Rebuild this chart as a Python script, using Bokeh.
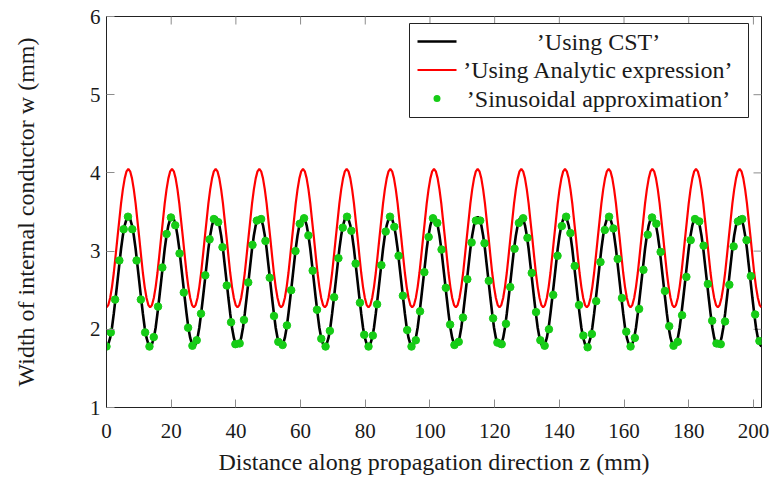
import math
from bokeh.plotting import figure
from bokeh.models import Range1d, FixedTicker, Label, BoxAnnotation
from bokeh.embed import file_html
from bokeh.resources import INLINE

# ---------------- data ----------------
x_ticks = [0, 20, 40, 60, 80, 100, 120, 140, 160, 180, 200]
y_ticks = [1, 2, 3, 4, 5, 6]
x_label = "Distance along propagation direction z (mm)"
y_label = "Width of internal conductor w (mm)"
legend_labels = ["\u2019Using CST\u2019", "\u2019Using Analytic expression\u2019",
                 "\u2019Sinusoidal approximation\u2019"]

# positions along z for the two continuous curves (mm)
z_line = [
    0, 0.56, 1.13, 1.69, 2.25, 2.81, 3.38, 3.94, 4.5, 5.06, 5.63, 6.19, 6.75, 7.31, 7.88, 8.44, 9, 9.56, 10.13, 10.69, 11.25, 11.81, 12.38, 12.94,
    13.5, 14.06, 14.63, 15.19, 15.75, 16.31, 16.88, 17.44, 18, 18.56, 19.13, 19.69, 20.25, 20.81, 21.38, 21.94, 22.5, 23.06, 23.63, 24.19, 24.75, 25.31, 25.88, 26.44,
    27, 27.56, 28.13, 28.69, 29.25, 29.81, 30.38, 30.94, 31.5, 32.06, 32.63, 33.19, 33.75, 34.31, 34.88, 35.44, 36, 36.56, 37.13, 37.69, 38.25, 38.81, 39.38, 39.94,
    40.5, 41.06, 41.63, 42.19, 42.75, 43.31, 43.88, 44.44, 45, 45.56, 46.13, 46.69, 47.25, 47.81, 48.38, 48.94, 49.5, 50.06, 50.63, 51.19, 51.75, 52.31, 52.88, 53.44,
    54, 54.56, 55.13, 55.69, 56.25, 56.81, 57.38, 57.94, 58.5, 59.06, 59.63, 60.19, 60.75, 61.31, 61.88, 62.44, 63, 63.56, 64.13, 64.69, 65.25, 65.81, 66.38, 66.94,
    67.5, 68.06, 68.63, 69.19, 69.75, 70.31, 70.88, 71.44, 72, 72.56, 73.13, 73.69, 74.25, 74.81, 75.38, 75.94, 76.5, 77.06, 77.63, 78.19, 78.75, 79.31, 79.88, 80.44,
    81, 81.56, 82.13, 82.69, 83.25, 83.81, 84.38, 84.94, 85.5, 86.06, 86.63, 87.19, 87.75, 88.31, 88.88, 89.44, 90, 90.56, 91.13, 91.69, 92.25, 92.81, 93.38, 93.94,
    94.5, 95.06, 95.63, 96.19, 96.75, 97.31, 97.88, 98.44, 99, 99.56, 100.13, 100.69, 101.25, 101.81, 102.38, 102.94, 103.5, 104.06, 104.63, 105.19, 105.75, 106.31, 106.88, 107.44,
    108, 108.56, 109.13, 109.69, 110.25, 110.81, 111.38, 111.94, 112.5, 113.06, 113.63, 114.19, 114.75, 115.31, 115.88, 116.44, 117, 117.56, 118.13, 118.69, 119.25, 119.81, 120.38, 120.94,
    121.5, 122.06, 122.63, 123.19, 123.75, 124.31, 124.88, 125.44, 126, 126.56, 127.13, 127.69, 128.25, 128.81, 129.38, 129.94, 130.5, 131.06, 131.63, 132.19, 132.75, 133.31, 133.88, 134.44,
    135, 135.56, 136.13, 136.69, 137.25, 137.81, 138.38, 138.94, 139.5, 140.06, 140.63, 141.19, 141.75, 142.31, 142.88, 143.44, 144, 144.56, 145.13, 145.69, 146.25, 146.81, 147.38, 147.94,
    148.5, 149.06, 149.63, 150.19, 150.75, 151.31, 151.88, 152.44, 153, 153.56, 154.13, 154.69, 155.25, 155.81, 156.38, 156.94, 157.5, 158.06, 158.63, 159.19, 159.75, 160.31, 160.88, 161.44,
    162, 162.56, 163.13, 163.69, 164.25, 164.81, 165.38, 165.94, 166.5, 167.06, 167.63, 168.19, 168.75, 169.31, 169.88, 170.44, 171, 171.56, 172.13, 172.69, 173.25, 173.81, 174.38, 174.94,
    175.5, 176.06, 176.63, 177.19, 177.75, 178.31, 178.88, 179.44, 180, 180.56, 181.13, 181.69, 182.25, 182.81, 183.38, 183.94, 184.5, 185.06, 185.63, 186.19, 186.75, 187.31, 187.88, 188.44,
    189, 189.56, 190.13, 190.69, 191.25, 191.81, 192.38, 192.94, 193.5, 194.06, 194.63, 195.19, 195.75, 196.31, 196.88, 197.44, 198, 198.56, 199.13, 199.69, 200.25, 200.81, 201.38, 201.94,
    202.5,
]

# 'Using CST' (black curve), width in mm
w_cst = [
    1.78, 1.81, 1.89, 2.02, 2.20, 2.40, 2.61, 2.82, 3.03, 3.20, 3.33, 3.41, 3.44, 3.41, 3.33, 3.20, 3.03, 2.82, 2.61, 2.40, 2.20, 2.02, 1.89, 1.81,
    1.78, 1.81, 1.89, 2.02, 2.20, 2.40, 2.61, 2.82, 3.03, 3.20, 3.33, 3.41, 3.44, 3.41, 3.33, 3.20, 3.03, 2.82, 2.61, 2.40, 2.20, 2.02, 1.89, 1.81,
    1.78, 1.81, 1.89, 2.02, 2.20, 2.40, 2.61, 2.82, 3.03, 3.20, 3.33, 3.41, 3.44, 3.41, 3.33, 3.20, 3.03, 2.82, 2.61, 2.40, 2.20, 2.02, 1.89, 1.81,
    1.78, 1.81, 1.89, 2.02, 2.20, 2.40, 2.61, 2.82, 3.03, 3.20, 3.33, 3.41, 3.44, 3.41, 3.33, 3.20, 3.03, 2.82, 2.61, 2.40, 2.20, 2.02, 1.89, 1.81,
    1.78, 1.81, 1.89, 2.02, 2.20, 2.40, 2.61, 2.82, 3.03, 3.20, 3.33, 3.41, 3.44, 3.41, 3.33, 3.20, 3.03, 2.82, 2.61, 2.40, 2.20, 2.02, 1.89, 1.81,
    1.78, 1.81, 1.89, 2.02, 2.20, 2.40, 2.61, 2.82, 3.03, 3.20, 3.33, 3.41, 3.44, 3.41, 3.33, 3.20, 3.03, 2.82, 2.61, 2.40, 2.20, 2.02, 1.89, 1.81,
    1.78, 1.81, 1.89, 2.02, 2.20, 2.40, 2.61, 2.82, 3.03, 3.20, 3.33, 3.41, 3.44, 3.41, 3.33, 3.20, 3.03, 2.82, 2.61, 2.40, 2.20, 2.02, 1.89, 1.81,
    1.78, 1.81, 1.89, 2.02, 2.20, 2.40, 2.61, 2.82, 3.03, 3.20, 3.33, 3.41, 3.44, 3.41, 3.33, 3.20, 3.03, 2.82, 2.61, 2.40, 2.20, 2.02, 1.89, 1.81,
    1.78, 1.81, 1.89, 2.02, 2.20, 2.40, 2.61, 2.82, 3.03, 3.20, 3.33, 3.41, 3.44, 3.41, 3.33, 3.20, 3.03, 2.82, 2.61, 2.40, 2.20, 2.02, 1.89, 1.81,
    1.78, 1.81, 1.89, 2.02, 2.20, 2.40, 2.61, 2.82, 3.03, 3.20, 3.33, 3.41, 3.44, 3.41, 3.33, 3.20, 3.03, 2.82, 2.61, 2.40, 2.20, 2.02, 1.89, 1.81,
    1.78, 1.81, 1.89, 2.02, 2.20, 2.40, 2.61, 2.82, 3.03, 3.20, 3.33, 3.41, 3.44, 3.41, 3.33, 3.20, 3.03, 2.82, 2.61, 2.40, 2.20, 2.02, 1.89, 1.81,
    1.78, 1.81, 1.89, 2.02, 2.20, 2.40, 2.61, 2.82, 3.03, 3.20, 3.33, 3.41, 3.44, 3.41, 3.33, 3.20, 3.03, 2.82, 2.61, 2.40, 2.20, 2.02, 1.89, 1.81,
    1.78, 1.81, 1.89, 2.02, 2.20, 2.40, 2.61, 2.82, 3.03, 3.20, 3.33, 3.41, 3.44, 3.41, 3.33, 3.20, 3.03, 2.82, 2.61, 2.40, 2.20, 2.02, 1.89, 1.81,
    1.78, 1.81, 1.89, 2.02, 2.20, 2.40, 2.61, 2.82, 3.03, 3.20, 3.33, 3.41, 3.44, 3.41, 3.33, 3.20, 3.03, 2.82, 2.61, 2.40, 2.20, 2.02, 1.89, 1.81,
    1.78, 1.81, 1.89, 2.02, 2.20, 2.40, 2.61, 2.82, 3.03, 3.20, 3.33, 3.41, 3.44, 3.41, 3.33, 3.20, 3.03, 2.82, 2.61, 2.40, 2.20, 2.02, 1.89, 1.81,
    1.78,
]

# 'Using Analytic expression' (red curve), width in mm
w_analytic = [
    2.28, 2.31, 2.40, 2.54, 2.72, 2.94, 3.17, 3.39, 3.61, 3.79, 3.93, 4.02, 4.05, 4.02, 3.93, 3.79, 3.61, 3.39, 3.17, 2.94, 2.72, 2.54, 2.40, 2.31,
    2.28, 2.31, 2.40, 2.54, 2.72, 2.94, 3.17, 3.39, 3.61, 3.79, 3.93, 4.02, 4.05, 4.02, 3.93, 3.79, 3.61, 3.39, 3.17, 2.94, 2.72, 2.54, 2.40, 2.31,
    2.28, 2.31, 2.40, 2.54, 2.72, 2.94, 3.17, 3.39, 3.61, 3.79, 3.93, 4.02, 4.05, 4.02, 3.93, 3.79, 3.61, 3.39, 3.17, 2.94, 2.72, 2.54, 2.40, 2.31,
    2.28, 2.31, 2.40, 2.54, 2.72, 2.94, 3.17, 3.39, 3.61, 3.79, 3.93, 4.02, 4.05, 4.02, 3.93, 3.79, 3.61, 3.39, 3.17, 2.94, 2.72, 2.54, 2.40, 2.31,
    2.28, 2.31, 2.40, 2.54, 2.72, 2.94, 3.17, 3.39, 3.61, 3.79, 3.93, 4.02, 4.05, 4.02, 3.93, 3.79, 3.61, 3.39, 3.17, 2.94, 2.72, 2.54, 2.40, 2.31,
    2.28, 2.31, 2.40, 2.54, 2.72, 2.94, 3.17, 3.39, 3.61, 3.79, 3.93, 4.02, 4.05, 4.02, 3.93, 3.79, 3.61, 3.39, 3.17, 2.94, 2.72, 2.54, 2.40, 2.31,
    2.28, 2.31, 2.40, 2.54, 2.72, 2.94, 3.17, 3.39, 3.61, 3.79, 3.93, 4.02, 4.05, 4.02, 3.93, 3.79, 3.61, 3.39, 3.17, 2.94, 2.72, 2.54, 2.40, 2.31,
    2.28, 2.31, 2.40, 2.54, 2.72, 2.94, 3.17, 3.39, 3.61, 3.79, 3.93, 4.02, 4.05, 4.02, 3.93, 3.79, 3.61, 3.39, 3.17, 2.94, 2.72, 2.54, 2.40, 2.31,
    2.28, 2.31, 2.40, 2.54, 2.72, 2.94, 3.17, 3.39, 3.61, 3.79, 3.93, 4.02, 4.05, 4.02, 3.93, 3.79, 3.61, 3.39, 3.17, 2.94, 2.72, 2.54, 2.40, 2.31,
    2.28, 2.31, 2.40, 2.54, 2.72, 2.94, 3.17, 3.39, 3.61, 3.79, 3.93, 4.02, 4.05, 4.02, 3.93, 3.79, 3.61, 3.39, 3.17, 2.94, 2.72, 2.54, 2.40, 2.31,
    2.28, 2.31, 2.40, 2.54, 2.72, 2.94, 3.17, 3.39, 3.61, 3.79, 3.93, 4.02, 4.05, 4.02, 3.93, 3.79, 3.61, 3.39, 3.17, 2.94, 2.72, 2.54, 2.40, 2.31,
    2.28, 2.31, 2.40, 2.54, 2.72, 2.94, 3.17, 3.39, 3.61, 3.79, 3.93, 4.02, 4.05, 4.02, 3.93, 3.79, 3.61, 3.39, 3.17, 2.94, 2.72, 2.54, 2.40, 2.31,
    2.28, 2.31, 2.40, 2.54, 2.72, 2.94, 3.17, 3.39, 3.61, 3.79, 3.93, 4.02, 4.05, 4.02, 3.93, 3.79, 3.61, 3.39, 3.17, 2.94, 2.72, 2.54, 2.40, 2.31,
    2.28, 2.31, 2.40, 2.54, 2.72, 2.94, 3.17, 3.39, 3.61, 3.79, 3.93, 4.02, 4.05, 4.02, 3.93, 3.79, 3.61, 3.39, 3.17, 2.94, 2.72, 2.54, 2.40, 2.31,
    2.28, 2.31, 2.40, 2.54, 2.72, 2.94, 3.17, 3.39, 3.61, 3.79, 3.93, 4.02, 4.05, 4.02, 3.93, 3.79, 3.61, 3.39, 3.17, 2.94, 2.72, 2.54, 2.40, 2.31,
    2.28,
]

# 'Sinusoidal approximation' (green dots)
z_sin = [
    0, 1.33, 2.66, 3.98, 5.31, 6.64, 7.97, 9.30, 10.62, 11.95, 13.28, 14.61, 15.94, 17.26, 18.59, 19.92, 21.25, 22.58, 23.90, 25.23,
    26.56, 27.89, 29.22, 30.54, 31.87, 33.20, 34.53, 35.86, 37.18, 38.51, 39.84, 41.17, 42.50, 43.82, 45.15, 46.48, 47.81, 49.14, 50.46, 51.79,
    53.12, 54.45, 55.78, 57.10, 58.43, 59.76, 61.09, 62.42, 63.74, 65.07, 66.40, 67.73, 69.06, 70.38, 71.71, 73.04, 74.37, 75.70, 77.02, 78.35,
    79.68, 81.01, 82.34, 83.66, 84.99, 86.32, 87.65, 88.98, 90.30, 91.63, 92.96, 94.29, 95.62, 96.94, 98.27, 99.60, 100.93, 102.26, 103.58, 104.91,
    106.24, 107.57, 108.90, 110.22, 111.55, 112.88, 114.21, 115.54, 116.86, 118.19, 119.52, 120.85, 122.18, 123.50, 124.83, 126.16, 127.49, 128.82, 130.14, 131.47,
    132.80, 134.13, 135.46, 136.78, 138.11, 139.44, 140.77, 142.10, 143.42, 144.75, 146.08, 147.41, 148.74, 150.06, 151.39, 152.72, 154.05, 155.38, 156.70, 158.03,
    159.36, 160.69, 162.02, 163.34, 164.67, 166.00, 167.33, 168.66, 169.98, 171.31, 172.64, 173.97, 175.30, 176.62, 177.95, 179.28, 180.61, 181.94, 183.26, 184.59,
    185.92, 187.25, 188.58, 189.90, 191.23, 192.56, 193.89, 195.22, 196.54, 197.87, 199.20, 200.53, 201.86,
]
w_sin = [
    1.78, 1.96, 2.38, 2.88, 3.28, 3.44, 3.28, 2.88, 2.38, 1.96, 1.78, 1.90, 2.29, 2.79, 3.22, 3.43, 3.33, 2.97, 2.47, 2.02,
    1.79, 1.86, 2.20, 2.69, 3.15, 3.41, 3.37, 3.05, 2.56, 2.09, 1.81, 1.82, 2.12, 2.60, 3.08, 3.39, 3.41, 3.13, 2.66, 2.17,
    1.84, 1.80, 2.05, 2.50, 3.00, 3.35, 3.42, 3.20, 2.75, 2.25, 1.88, 1.78, 1.98, 2.41, 2.91, 3.30, 3.44, 3.26, 2.84, 2.34,
    1.93, 1.78, 1.92, 2.32, 2.82, 3.25, 3.44, 3.31, 2.94, 2.43, 1.99, 1.78, 1.86, 2.23, 2.73, 3.18, 3.42, 3.36, 3.02, 2.53,
    2.06, 1.80, 1.84, 2.15, 2.64, 3.11, 3.39, 3.39, 3.10, 2.62, 2.14, 1.83, 1.81, 2.07, 2.54, 3.03, 3.36, 3.42, 3.17, 2.72,
    2.22, 1.86, 1.79, 2.00, 2.44, 2.94, 3.32, 3.44, 3.23, 2.81, 2.31, 1.92, 1.77, 1.94, 2.36, 2.86, 3.27, 3.44, 3.29, 2.90,
    2.40, 1.97, 1.78, 1.89, 2.26, 2.76, 3.21, 3.43, 3.35, 2.99, 2.49, 2.04, 1.79, 1.84, 2.18, 2.67, 3.14, 3.41, 3.38, 3.07,
    2.58, 2.11, 1.82, 1.81, 2.10, 2.57, 3.06, 3.38, 3.41, 3.14, 2.68, 2.19, 1.85,
]

# ---------------- figure ----------------
FONT = "Liberation Serif"
TXT = "#1a1a1a"
AX = "#222222"
TICK = "#8c8c8c"
C_CST, C_AN, C_SIN = "black", "#ff0000", "#16cc16"
W_CST, W_AN, S_SIN = 2.6, 2.2, 7.5

xr = Range1d(0, 202.5)
yr = Range1d(1, 6)
p = figure(width=769, height=477, output_backend="svg", toolbar_location=None,
           x_range=xr, y_range=yr,
           min_border_left=106, min_border_right=8, min_border_top=16, min_border_bottom=68)
p.xgrid.visible = False
p.ygrid.visible = False
p.outline_line_color = AX
p.outline_line_width = 1
p.background_fill_color = "white"
p.border_fill_color = "white"

p.xaxis.ticker = FixedTicker(ticks=x_ticks)
p.yaxis.ticker = FixedTicker(ticks=y_ticks)
p.xaxis.axis_label = x_label
p.yaxis.axis_label = y_label
for ax in (p.xaxis[0], p.yaxis[0]):
    ax.axis_line_color = AX
    ax.major_tick_in = 8
    ax.major_tick_out = 0
    ax.major_tick_line_color = TICK
    ax.minor_tick_line_color = None
    ax.major_label_text_font = FONT
    ax.major_label_text_font_size = "21px"
    ax.major_label_text_color = TXT
    ax.axis_label_text_font = FONT
    ax.axis_label_text_font_size = "24px"
    ax.axis_label_text_font_style = "normal"
    ax.axis_label_text_color = TXT
p.xaxis.major_label_standoff = 16
p.xaxis.axis_label_standoff = 8
p.yaxis.major_label_standoff = 6
p.yaxis.axis_label_standoff = 48

# inward tick marks on the top and right edges of the frame (mirrored ticks)
p.scatter(x=x_ticks, y=[yr.end] * len(x_ticks), marker="dash", angle=math.pi / 2,
          size=16, line_color=TICK, line_width=1)
p.scatter(x=[xr.end] * len(y_ticks), y=y_ticks, marker="dash",
          size=16, line_color=TICK, line_width=1)

p.line(z_line, w_cst, line_color=C_CST, line_width=W_CST)
p.line(z_line, w_analytic, line_color=C_AN, line_width=W_AN)
p.scatter(z_sin, w_sin, size=S_SIN, fill_color=C_SIN, line_color=C_SIN)

# ---------------- legend (box, samples and centred entries), frame-relative px ----------------
p.add_layout(BoxAnnotation(left=303, right=642, bottom=290, top=384,
                           left_units="screen", right_units="screen",
                           bottom_units="screen", top_units="screen",
                           fill_color="white", fill_alpha=1.0,
                           line_color=AX, line_width=1, line_alpha=1.0, level="annotation"))
rows = [366, 337.5, 309]
p.add_layout(BoxAnnotation(left=311, right=350, bottom=rows[0] - W_CST / 2, top=rows[0] + W_CST / 2,
                           left_units="screen", right_units="screen",
                           bottom_units="screen", top_units="screen",
                           fill_color=C_CST, fill_alpha=1.0, line_color=None, level="overlay"))
p.add_layout(BoxAnnotation(left=311, right=350, bottom=rows[1] - W_AN / 2, top=rows[1] + W_AN / 2,
                           left_units="screen", right_units="screen",
                           bottom_units="screen", top_units="screen",
                           fill_color=C_AN, fill_alpha=1.0, line_color=None, level="overlay"))
p.add_layout(BoxAnnotation(left=327, right=334, bottom=rows[2] - 3.5, top=rows[2] + 3.5,
                           left_units="screen", right_units="screen",
                           bottom_units="screen", top_units="screen",
                           border_radius=4,
                           fill_color=C_SIN, fill_alpha=1.0, line_color=None, level="overlay"))
for txt, ry in zip(legend_labels, rows):
    p.add_layout(Label(x=492, y=ry, x_units="screen", y_units="screen",
                       text=txt, text_align="center", text_baseline="middle",
                       text_font=FONT, text_font_size="24px", text_color=TXT,
                       level="overlay"))

open("out.html", "w").write(file_html(p, INLINE))
